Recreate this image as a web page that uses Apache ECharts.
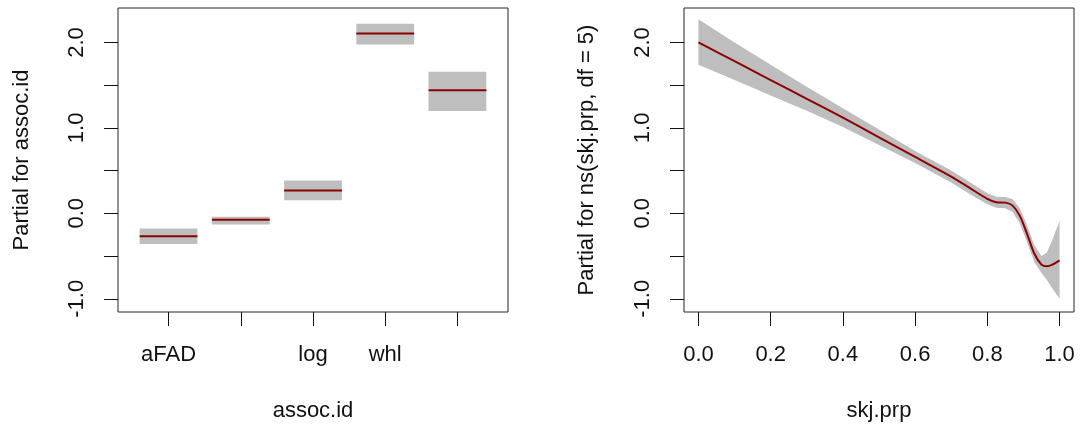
<!DOCTYPE html>
<html><head><meta charset="utf-8">
<script src="https://cdn.jsdelivr.net/npm/echarts@6/dist/echarts.min.js"></script>
<style>html,body{margin:0;padding:0;background:#fff}#c{width:1080px;height:427px}</style>
</head><body><div id="c"></div>
<script>
// ---- data ----
const assocLevels = ['aFAD', '', 'log', 'whl', ''];
const assocFit    = [-0.268, -0.074, 0.268, 2.105, 1.440];
const assocUpper  = [-0.179, -0.039, 0.385, 2.218, 1.658];
const assocLower  = [-0.358, -0.132, 0.152, 1.977, 1.198];

const skjX     = [0, 0.1, 0.2, 0.3, 0.4, 0.5, 0.6, 0.7, 0.75, 0.8, 0.825, 0.85, 0.87, 0.89, 0.91, 0.93, 0.95, 0.965, 0.98, 1.0];
const skjFit   = [2.00, 1.78, 1.56, 1.34, 1.12, 0.89, 0.66, 0.43, 0.30, 0.17, 0.13, 0.125, 0.09, -0.03, -0.24, -0.47, -0.60, -0.62, -0.60, -0.55];
const skjUpper = [2.27, 2.00, 1.74, 1.48, 1.23, 0.98, 0.73, 0.50, 0.37, 0.235, 0.195, 0.19, 0.165, 0.06, -0.14, -0.37, -0.50, -0.46, -0.31, -0.09];
const skjLower = [1.74, 1.56, 1.38, 1.20, 1.01, 0.80, 0.59, 0.36, 0.23, 0.105, 0.065, 0.06, 0.015, -0.12, -0.34, -0.57, -0.70, -0.78, -0.88, -1.00];

const yTickValues  = [-1, -0.5, 0, 0.5, 1, 1.5, 2];
const yLabelValues = [-1, 0, 1, 2];
const assocTickValues = [1, 2, 3, 4, 5];
const skjTickValues = [0, 0.2, 0.4, 0.6, 0.8, 1.0];

// ---- styling ----
const FONT = '"Liberation Sans", Arial, sans-serif';
const TXT = '#111';
const BAND = '#bebebe';
const FITC = '#8b0000';

function yAxisDef(gi, name, gap) {
  return {
    type: 'value', gridIndex: gi, min: -1.155, max: 2.403,
    name: name, nameLocation: 'middle', nameGap: gap, nameRotate: 90,
    nameTextStyle: { fontFamily: FONT, fontSize: 22, color: TXT },
    axisLine: { show: false, onZero: false }, splitLine: { show: false },
    axisTick: { show: true, length: 14, lineStyle: { color: TXT, width: 1 }, customValues: yTickValues },
    axisLabel: { show: true, rotate: 90, margin: 30, fontFamily: FONT, fontSize: 22, color: TXT,
      customValues: yLabelValues, formatter: v => Number(v).toFixed(1) }
  };
}

const option = {
  animation: false,
  grid: [
    { left: 118, top: 8, width: 390, height: 305, show: true, borderColor: '#222', borderWidth: 1, backgroundColor: 'transparent' },
    { left: 684, top: 8, width: 390, height: 305, show: true, borderColor: '#222', borderWidth: 1, backgroundColor: 'transparent' }
  ],
  xAxis: [
    {
      type: 'value', gridIndex: 0, min: 0.3, max: 5.7, position: 'bottom',
      name: 'assoc.id', nameLocation: 'middle', nameGap: 88,
      nameTextStyle: { fontFamily: FONT, fontSize: 22, color: TXT },
      axisLine: { show: false, onZero: false }, splitLine: { show: false },
      axisTick: { show: true, length: 14, lineStyle: { color: TXT }, customValues: assocTickValues },
      axisLabel: { show: true, margin: 32, fontFamily: FONT, fontSize: 22, color: TXT,
        customValues: assocTickValues, formatter: v => assocLevels[Math.round(v) - 1] || '' }
    },
    {
      type: 'value', gridIndex: 1, min: -0.04, max: 1.04, position: 'bottom',
      name: 'skj.prp', nameLocation: 'middle', nameGap: 88,
      nameTextStyle: { fontFamily: FONT, fontSize: 22, color: TXT },
      axisLine: { show: false, onZero: false }, splitLine: { show: false },
      axisTick: { show: true, length: 14, lineStyle: { color: TXT }, customValues: skjTickValues },
      axisLabel: { show: true, margin: 32, fontFamily: FONT, fontSize: 22, color: TXT,
        customValues: skjTickValues, formatter: v => Number(v).toFixed(1) }
    }
  ],
  yAxis: [
    yAxisDef(0, 'Partial for assoc.id', 85),
    yAxisDef(1, 'Partial for ns(skj.prp, df = 5)', 86)
  ],
  series: [
    {
      type: 'custom', xAxisIndex: 0, yAxisIndex: 0, silent: true,
      data: assocFit.map((f, i) => [i + 1, f, assocLower[i], assocUpper[i]]),
      encode: { x: 0, y: [1, 2, 3] },
      renderItem: function (params, api) {
        const x = api.value(0);
        const a = api.coord([x - 0.4, api.value(3)]);
        const b = api.coord([x + 0.4, api.value(2)]);
        const f1 = api.coord([x - 0.4, api.value(1)]);
        const f2 = api.coord([x + 0.4, api.value(1)]);
        return {
          type: 'group', children: [
            { type: 'rect', shape: { x: a[0], y: a[1], width: b[0] - a[0], height: b[1] - a[1] }, style: { fill: BAND } },
            { type: 'line', shape: { x1: f1[0], y1: f1[1], x2: f2[0], y2: f2[1] }, style: { stroke: FITC, lineWidth: 2 } }
          ]
        };
      }
    },
    {
      type: 'custom', xAxisIndex: 1, yAxisIndex: 1, silent: true,
      data: skjX.map((x, i) => [x, skjLower[i], skjUpper[i]]),
      encode: { x: 0, y: [1, 2] },
      renderItem: function (params, api) {
        if (params.dataIndex !== 0) return null;
        const pts = [];
        for (let i = 0; i < skjX.length; i++) pts.push(api.coord([skjX[i], skjUpper[i]]));
        for (let i = skjX.length - 1; i >= 0; i--) pts.push(api.coord([skjX[i], skjLower[i]]));
        return { type: 'polygon', shape: { points: pts }, style: { fill: BAND } };
      }
    },
    {
      type: 'line', xAxisIndex: 1, yAxisIndex: 1, silent: true, z: 5,
      data: skjX.map((x, i) => [x, skjFit[i]]),
      smooth: 0.3, symbol: 'none',
      lineStyle: { color: FITC, width: 2 }
    }
  ]
};

const chart = echarts.init(document.getElementById('c'), null, { renderer: 'canvas' });
chart.setOption(option);
</script>
</body></html>
